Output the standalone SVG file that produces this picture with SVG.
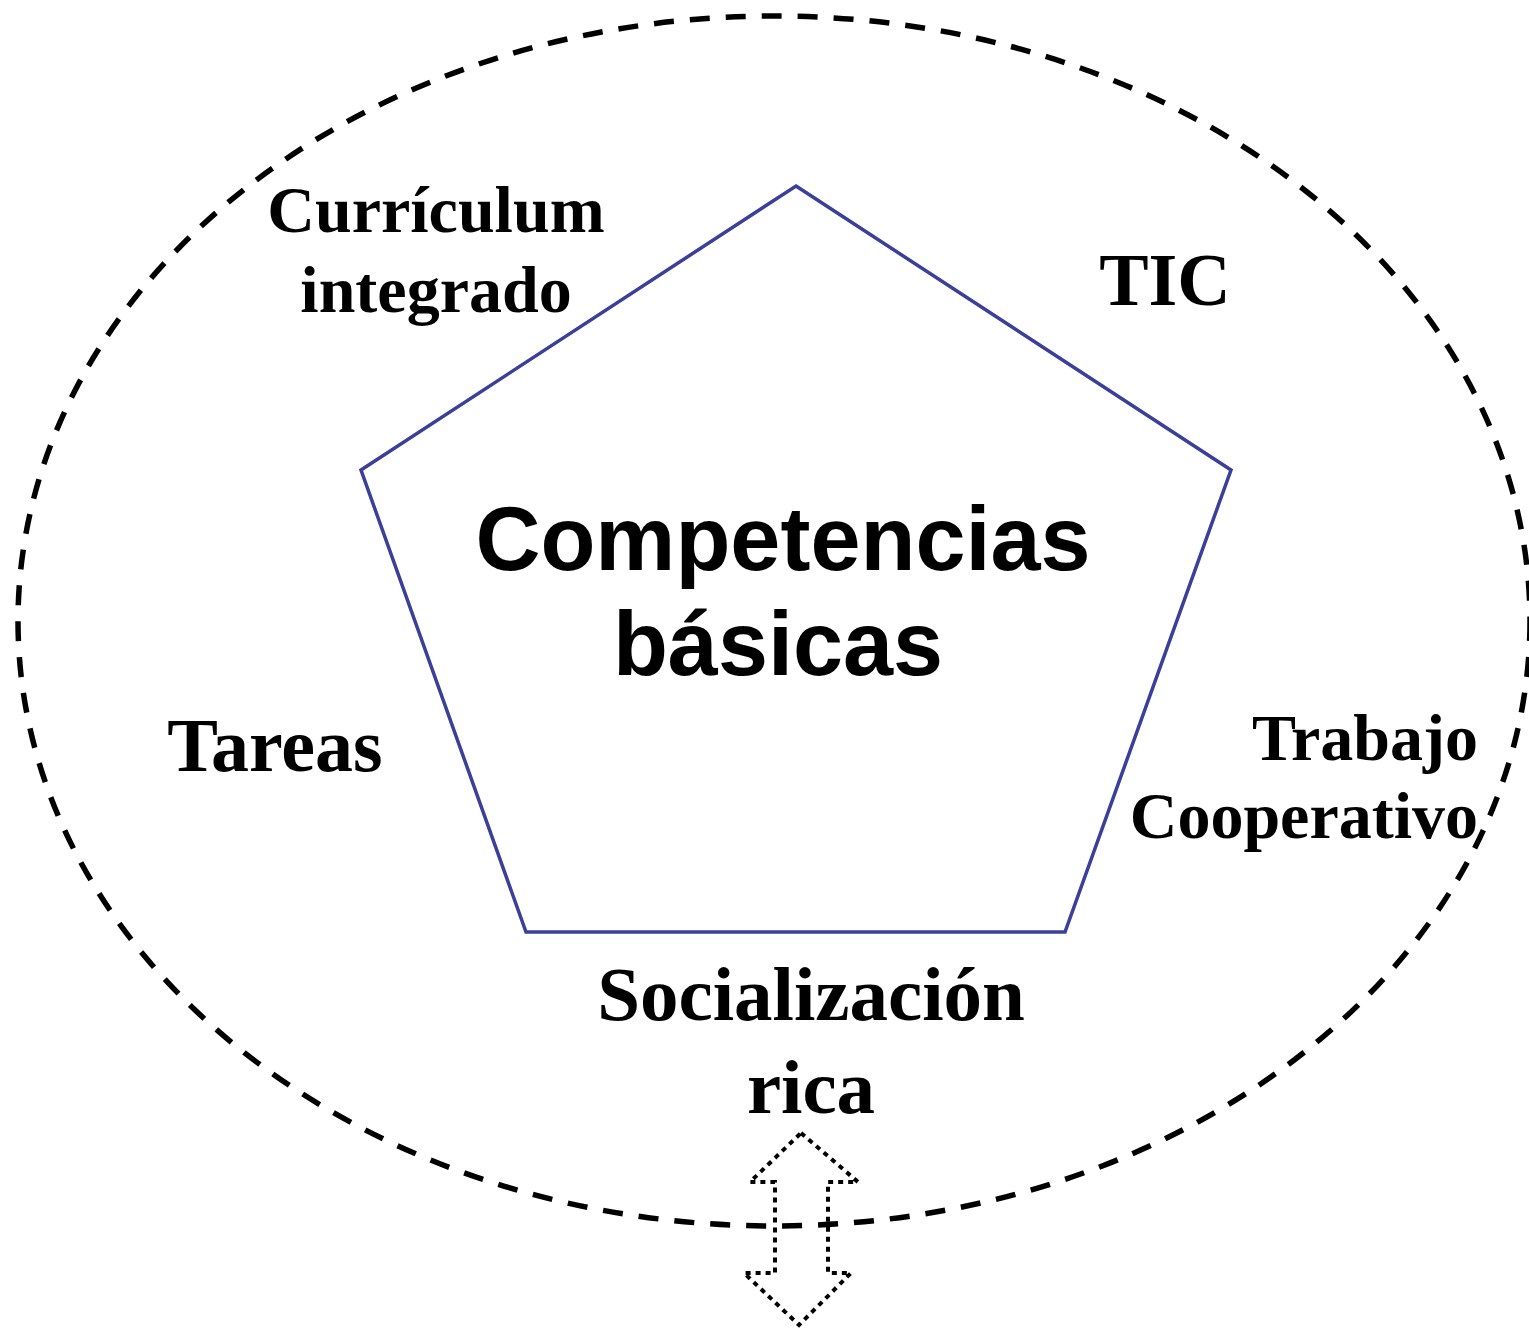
<svg xmlns="http://www.w3.org/2000/svg" width="1529" height="1334" viewBox="0 0 1529 1334">
<style>
.lbl{font-family:"Liberation Serif","Times New Roman",serif;font-weight:bold;fill:#000}
.ctr{font-family:"Liberation Sans",Arial,sans-serif;font-weight:bold;fill:#000;font-size:90px;text-anchor:middle}
</style>
<rect width="1529" height="1334" fill="#fff"/>
<g id="outer">
<ellipse cx="774" cy="621" rx="756" ry="605" fill="none" stroke="#000" stroke-width="5.5" stroke-dasharray="20 16"/>
</g>
<g id="pentagon">
<polygon points="796,186 1231,470 1065,932 526,932 361,470" fill="none" stroke="#3a3f9a" stroke-width="3.5"/>
<text class="ctr" x="783" y="570">Competencias</text>
<text class="ctr" x="778" y="675">básicas</text>
</g>
<g id="curriculum">
<text class="lbl" x="436" y="232" font-size="66" text-anchor="middle">Currículum</text>
<text class="lbl" x="436" y="312" font-size="66" text-anchor="middle">integrado</text>
</g>
<g id="tic">
<text class="lbl" x="1165" y="305" font-size="74" text-anchor="middle">TIC</text>
</g>
<g id="tareas">
<text class="lbl" x="275" y="771" font-size="76" text-anchor="middle">Tareas</text>
</g>
<g id="trabajo">
<text class="lbl" x="1478" y="760" font-size="66" text-anchor="end">Trabajo</text>
<text class="lbl" x="1478" y="838" font-size="66" text-anchor="end">Cooperativo</text>
</g>
<g id="socializacion">
<text class="lbl" x="811" y="1020" font-size="77" text-anchor="middle">Socialización</text>
<text class="lbl" x="811" y="1113" font-size="77" text-anchor="middle">rica</text>
</g>
<g id="connectors">
<polygon points="801,1133 858,1182 828,1182 828,1273 851,1273 799,1325 744,1273 775,1273 775,1182 750,1182" fill="none" stroke="#000" stroke-width="4" stroke-dasharray="5 5"/>
</g>
</svg>
